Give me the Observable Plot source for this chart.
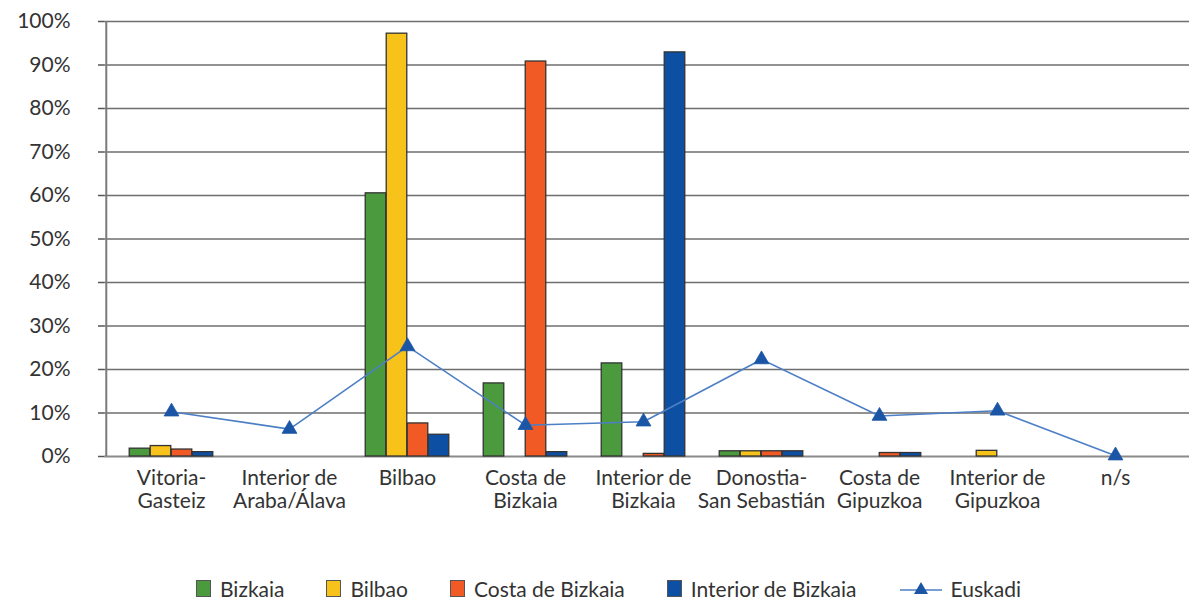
<!DOCTYPE html>
<html>
<head>
<meta charset="utf-8">
<script src="https://cdn.jsdelivr.net/npm/d3@7"></script>
<script src="https://cdn.jsdelivr.net/npm/@observablehq/plot@0.6"></script>
<style>
  html, body { margin: 0; padding: 0; background: #fff; }
  body { width: 1189px; height: 601px; overflow: hidden; font-family: Lato, "Open Sans", sans-serif; color: #333; }
  #chart { height: 536px; }
  #legend { display: flex; align-items: center; padding-left: 196px; margin-top: 42px; font-size: 21px; line-height: 21px; height: 21px; }
  .item { display: flex; align-items: center; margin-right: 42px; }
  .sw { width: 13px; height: 15px; border: 1px solid #555; margin-right: 9px; box-sizing: content-box; }
  svg text { fill: #333; }
</style>
</head>
<body>
<div id="chart"></div>
<div id="legend"></div>
<script>
const categories = ["Vitoria-Gasteiz", "Interior de Araba/Álava", "Bilbao", "Costa de Bizkaia", "Interior de Bizkaia", "Donostia-San Sebastián", "Costa de Gipuzkoa", "Interior de Gipuzkoa", "n/s"];
const categoryLabels = ["Vitoria-\nGasteiz", "Interior de\nAraba/Álava", "Bilbao", "Costa de\nBizkaia", "Interior de\nBizkaia", "Donostia-\nSan Sebastián", "Costa de\nGipuzkoa", "Interior de\nGipuzkoa", "n/s"];
const seriesNames = ["Bizkaia", "Bilbao", "Costa de Bizkaia", "Interior de Bizkaia"];
const bizkaia  = [1.8, 0, 60.5, 16.8, 21.4, 1.2, 0, 0, 0];
const bilbao   = [2.4, 0, 97.2, 0, 0, 1.2, 0, 1.3, 0];
const costa    = [1.6, 0, 7.6, 90.8, 0.6, 1.2, 0.8, 0, 0];
const interior = [1.0, 0, 5.0, 1.0, 92.9, 1.2, 0.8, 0, 0];
const euskadi  = [10.3, 6.3, 25.3, 7.2, 8.0, 22.3, 9.3, 10.5, 0.2];
const yTicks = [0, 10, 20, 30, 40, 50, 60, 70, 80, 90, 100];

const seriesValues = [bizkaia, bilbao, costa, interior];
const seriesColors = ["#4b9a3e", "#f7c21a", "#f15a24", "#0d4fa3"];
const lineColor = "#4d7fc6";
const markerColor = "#1b55a6";

const xRange = [110, 1176];
const marginLeft = 104;
const bandStep = (xRange[1] - xRange[0]) / categories.length;
const barW = 21;
const labelOf = new Map(categories.map((c, i) => [c, categoryLabels[i]]));

const barMarks = seriesValues.map((vals, s) => {
  const data = categories.map((c, i) => ({category: c, value: vals[i]})).filter(d => d.value > 0);
  const inset = (bandStep - barW) / 2;
  return Plot.barY(data, {
    x: "category", y: "value",
    fill: seriesColors[s], stroke: "#333", strokeWidth: 1.3,
    insetLeft: inset, insetRight: inset,
    dx: (s - 1.5) * barW
  });
});

const lineData = categories.map((c, i) => ({category: c, value: euskadi[i]}));

const chart = Plot.plot({
  width: 1189,
  height: 536,
  marginLeft: marginLeft,
  marginRight: 0,
  marginTop: 21,
  marginBottom: 80,
  style: {fontFamily: "Lato, 'Open Sans', sans-serif", background: "#fff", color: "#333"},
  x: {domain: categories, range: xRange, padding: 0, label: null},
  y: {domain: [0, 100], label: null},
  marks: [
    Plot.ruleY(yTicks.filter(d => d > 0), {stroke: "#6e6e6e", strokeWidth: 1.4}),
    Plot.ruleY([0], {stroke: "#8a8a8a", strokeWidth: 2}),
    Plot.ruleX([categories[0]], {x: d => d, y1: 0, y2: 100, dx: -(xRange[0] - marginLeft) - bandStep / 2, stroke: "#7a7a7a", strokeWidth: 2}),
    ...barMarks,
    Plot.lineY(lineData, {x: "category", y: "value", stroke: lineColor, strokeWidth: 1.6}),
    Plot.dot(lineData, {x: "category", y: "value", symbol: "triangle", r: 5.5, fill: markerColor, stroke: markerColor, strokeWidth: 0.8}),
    Plot.axisY({ticks: yTicks, tickFormat: d => d + "%", tickSize: 6, tickPadding: 28, fontSize: 21, stroke: "#555", strokeWidth: 1.5}),
    Plot.axisX({tickSize: 0, tickPadding: 12, fontSize: 21, tickFormat: d => labelOf.get(d), lineHeight: 1.1})
  ]
});
document.getElementById("chart").appendChild(chart);

const legend = document.getElementById("legend");
seriesNames.forEach((name, i) => {
  const it = document.createElement("div");
  it.className = "item";
  it.innerHTML = `<span class="sw" style="background:${seriesColors[i]}"></span><span>${name}</span>`;
  legend.appendChild(it);
});
const eu = document.createElement("div");
eu.className = "item";
eu.innerHTML = `<svg width="44" height="20" style="margin-right:8px"><line x1="1" y1="11" x2="43" y2="11" stroke="${lineColor}" stroke-width="1.6"/><path d="M22,3 L29,15 L15,15 Z" fill="${markerColor}"/></svg><span>Euskadi</span>`;
legend.appendChild(eu);
</script>
</body>
</html>
